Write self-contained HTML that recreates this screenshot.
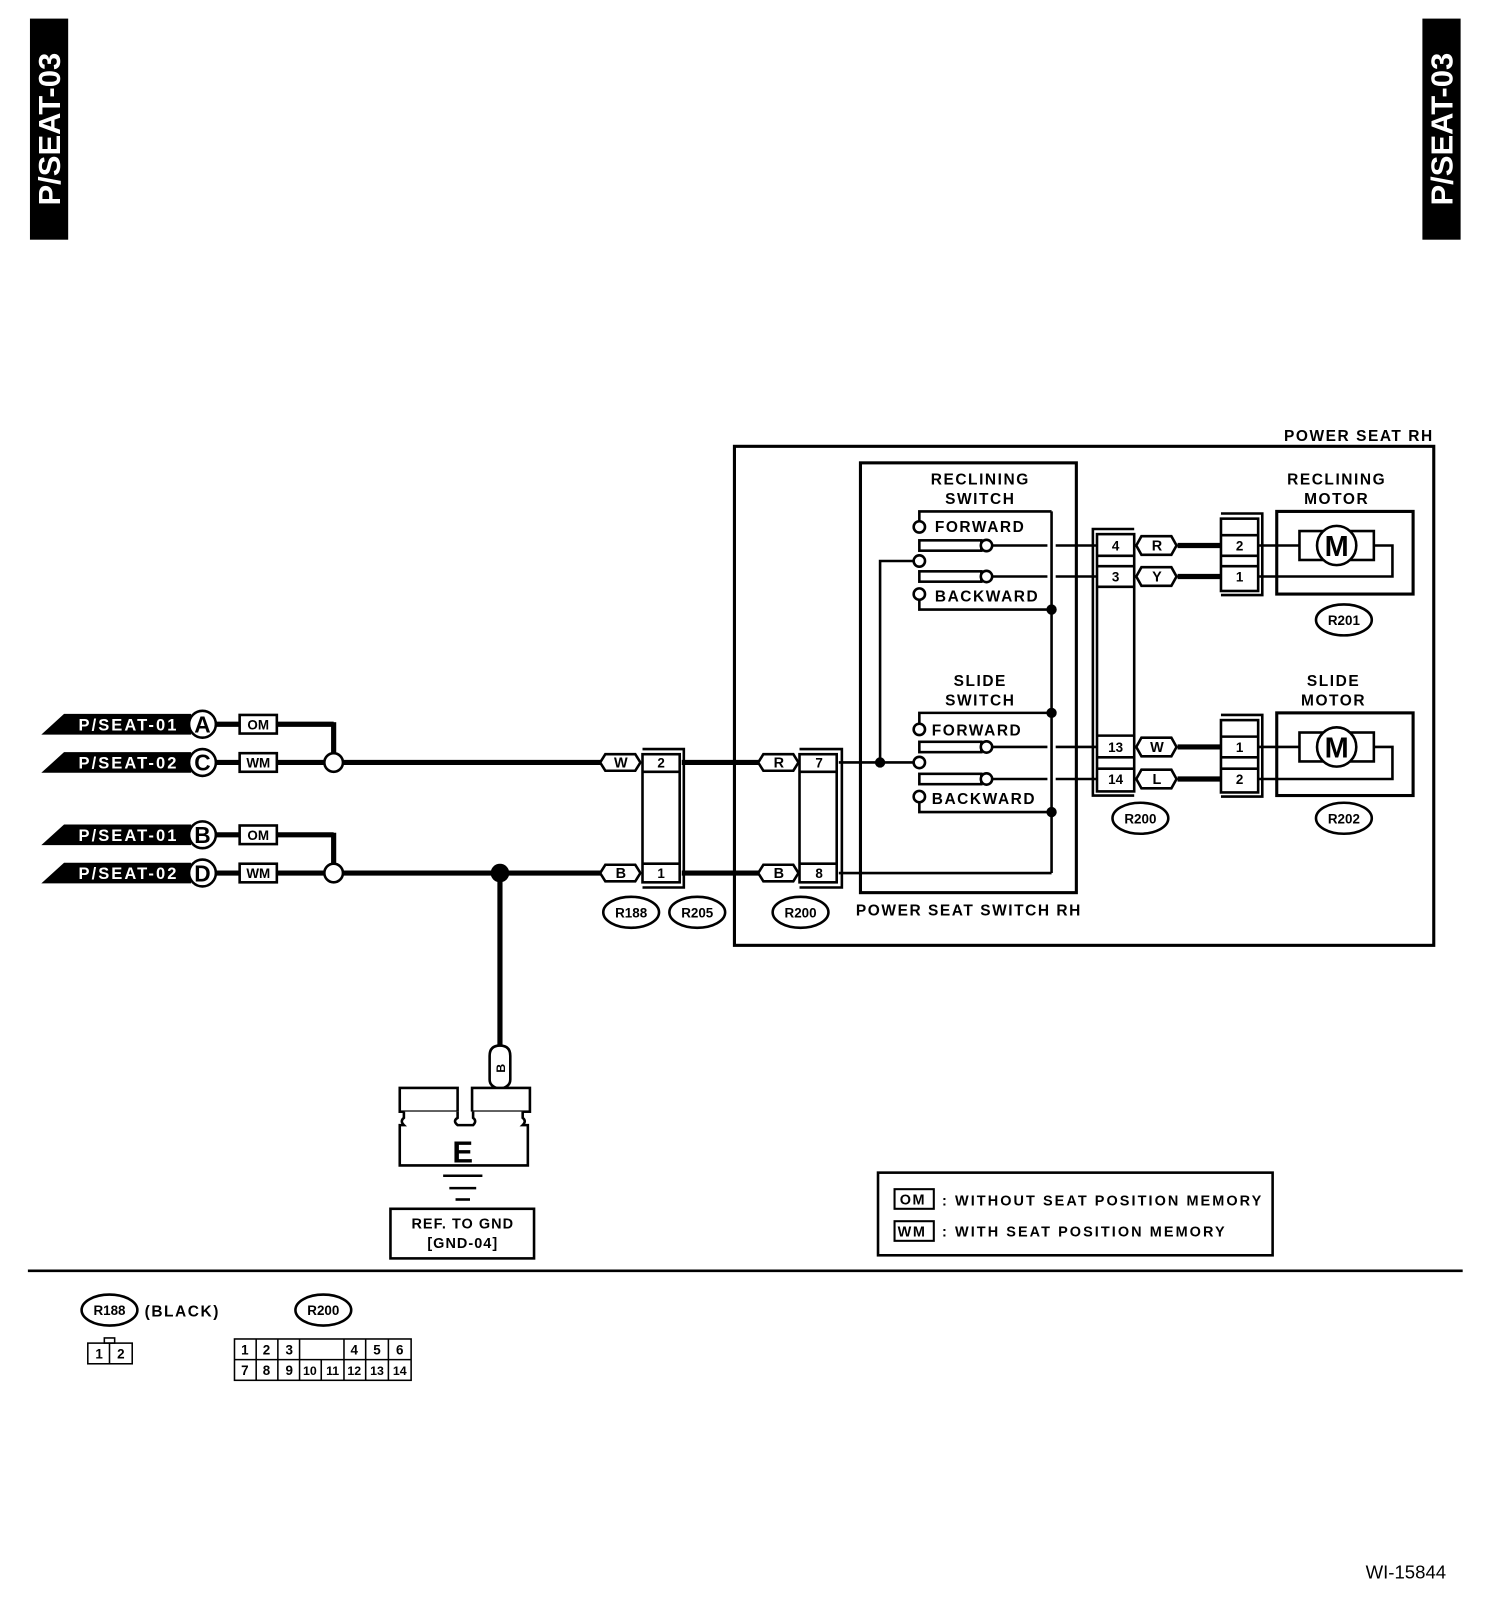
<!DOCTYPE html>
<html><head><meta charset="utf-8"><style>
html,body{margin:0;padding:0;background:#fff}
svg{display:block}
text{font-family:"Liberation Sans",sans-serif;font-weight:bold;fill:#000}
.ls{letter-spacing:1.5px}
.ls2{letter-spacing:2px}
</style></head><body>
<svg width="1504" height="1620" viewBox="0 0 1456 1568" preserveAspectRatio="none" xmlns="http://www.w3.org/2000/svg">
<g>
<rect x="29" y="18" width="37" height="214" fill="#000"/>
<text transform="translate(58,125) rotate(-90)" text-anchor="middle" font-size="30" style="fill:#fff">P/SEAT-03</text>
<rect x="1377" y="18" width="37" height="214" fill="#000"/>
<text transform="translate(1406,125) rotate(-90)" text-anchor="middle" font-size="30" style="fill:#fff">P/SEAT-03</text>
</g>
<line x1="27" y1="1230" x2="1416" y2="1230" stroke="#000" stroke-width="2.5"/>
<text x="1322" y="1528" font-size="18" style="font-weight:normal">WI-15844</text>

<g font-size="16" class="ls2">
<polygon points="40,711 62,691 185,691 185,711" fill="#000"/><text x="76" y="707" style="fill:#fff">P/SEAT-01</text>
<polygon points="40,748 62,728 185,728 185,748" fill="#000"/><text x="76" y="744" style="fill:#fff">P/SEAT-02</text>
<polygon points="40,818 62,798 185,798 185,818" fill="#000"/><text x="76" y="814" style="fill:#fff">P/SEAT-01</text>
<polygon points="40,855 62,835 185,835 185,855" fill="#000"/><text x="76" y="851" style="fill:#fff">P/SEAT-02</text>
</g>
<g stroke="#000" stroke-width="5" fill="none">
<line x1="205" y1="701" x2="232" y2="701"/><line x1="268" y1="701" x2="323" y2="701"/><line x1="323" y1="699" x2="323" y2="730"/>
<line x1="205" y1="738" x2="232" y2="738"/><line x1="268" y1="738" x2="314" y2="738"/><line x1="332" y1="738" x2="583" y2="738"/>
<line x1="205" y1="808" x2="232" y2="808"/><line x1="268" y1="808" x2="323" y2="808"/><line x1="323" y1="806" x2="323" y2="837"/>
<line x1="205" y1="845" x2="232" y2="845"/><line x1="268" y1="845" x2="314" y2="845"/><line x1="332" y1="845" x2="583" y2="845"/>
<line x1="484" y1="845" x2="484" y2="1014"/>
<line x1="660" y1="738" x2="737" y2="738"/><line x1="660" y1="845" x2="737" y2="845"/>
<line x1="1140" y1="528" x2="1182" y2="528"/><line x1="1140" y1="558" x2="1182" y2="558"/>
<line x1="1140" y1="723" x2="1182" y2="723"/><line x1="1140" y1="754" x2="1182" y2="754"/>
</g>
<g stroke="#000" stroke-width="2.5" fill="#fff">
<circle cx="196" cy="701" r="13"/><circle cx="196" cy="738" r="13"/><circle cx="196" cy="808" r="13"/><circle cx="196" cy="845" r="13"/>
<circle cx="323" cy="738" r="9"/><circle cx="323" cy="845" r="9"/>
<rect x="232" y="692" width="36" height="18"/><rect x="232" y="729" width="36" height="18"/>
<rect x="232" y="799" width="36" height="18"/><rect x="232" y="836" width="36" height="18"/>
</g>
<g font-size="22" text-anchor="middle"><text x="196" y="709">A</text><text x="196" y="746">C</text><text x="196" y="816">B</text><text x="196" y="853">D</text></g>
<g font-size="13" text-anchor="middle"><text x="250" y="706">OM</text><text x="250" y="743">WM</text><text x="250" y="813">OM</text><text x="250" y="850">WM</text></g>
<circle cx="484" cy="845" r="9" fill="#000"/>

<g stroke="#000" stroke-width="2.5" fill="#fff">
<path d="M586,730 H615 L620,738 L615,746 H586 L581,738 Z"/>
<path d="M586,837 H615 L620,845 L615,853 H586 L581,845 Z"/>
<path d="M739,730 H768 L773,738 L768,746 H739 L734,738 Z"/>
<path d="M739,837 H768 L773,845 L768,853 H739 L734,845 Z"/>
<path d="M1105,519 H1134 L1139,528 L1134,537 H1105 L1100,528 Z"/>
<path d="M1105,549 H1134 L1139,558 L1134,567 H1105 L1100,558 Z"/>
<path d="M1105,714 H1134 L1139,723 L1134,732 H1105 L1100,723 Z"/>
<path d="M1105,745 H1134 L1139,754 L1134,763 H1105 L1100,754 Z"/>
</g>
<g font-size="14" text-anchor="middle">
<text x="601" y="743">W</text><text x="601" y="850">B</text><text x="754" y="743">R</text><text x="754" y="850">B</text>
<text x="1120" y="533">R</text><text x="1120" y="563">Y</text><text x="1120" y="728">W</text><text x="1120" y="759">L</text>
</g>

<g stroke="#000" stroke-width="2.5" fill="none">
<rect x="622" y="730" width="36" height="124"/><line x1="622" y1="747" x2="658" y2="747"/><line x1="622" y1="836" x2="658" y2="836"/>
<polyline points="622,725 662,725 662,859 622,859"/>
<rect x="774" y="730" width="36" height="124"/><line x1="774" y1="747" x2="810" y2="747"/><line x1="774" y1="836" x2="810" y2="836"/>
<polyline points="774,725 815,725 815,859 774,859"/>
<rect x="1062" y="517" width="36" height="249"/>
<line x1="1062" y1="538" x2="1098" y2="538"/><line x1="1062" y1="548" x2="1098" y2="548"/><line x1="1062" y1="568" x2="1098" y2="568"/>
<line x1="1062" y1="712" x2="1098" y2="712"/><line x1="1062" y1="733" x2="1098" y2="733"/><line x1="1062" y1="744" x2="1098" y2="744"/>
<polyline points="1098,512 1058,512 1058,770 1098,770"/>
<rect x="1182" y="502" width="36" height="70"/><line x1="1182" y1="518" x2="1218" y2="518"/><line x1="1182" y1="538" x2="1218" y2="538"/><line x1="1182" y1="548" x2="1218" y2="548"/>
<polyline points="1182,497 1222,497 1222,576 1182,576"/>
<rect x="1182" y="697" width="36" height="70"/><line x1="1182" y1="713" x2="1218" y2="713"/><line x1="1182" y1="733" x2="1218" y2="733"/><line x1="1182" y1="744" x2="1218" y2="744"/>
<polyline points="1182,692 1222,692 1222,771 1182,771"/>
</g>
<g font-size="13" text-anchor="middle">
<text x="640" y="743">2</text><text x="640" y="850">1</text><text x="793" y="743">7</text><text x="793" y="850">8</text>
<text x="1080" y="533">4</text><text x="1080" y="563">3</text><text x="1080" y="728">13</text><text x="1080" y="759">14</text>
<text x="1200" y="533">2</text><text x="1200" y="563">1</text><text x="1200" y="728">1</text><text x="1200" y="759">2</text>
</g>

<g stroke="#000" stroke-width="3" fill="none">
<rect x="711" y="432" width="677" height="483"/>
<rect x="833" y="448" width="209" height="416"/>
<rect x="1236" y="495" width="132" height="80"/>
<rect x="1236" y="690" width="132" height="80"/>
</g>
<g font-size="15" text-anchor="middle" class="ls">
<text x="1388" y="427" text-anchor="end">POWER SEAT RH</text>
<text x="938" y="886">POWER SEAT SWITCH RH</text>
<text x="949" y="469">RECLINING</text><text x="949" y="488">SWITCH</text>
<text x="949" y="664">SLIDE</text><text x="949" y="683">SWITCH</text>
<text x="1294" y="469">RECLINING</text><text x="1294" y="488">MOTOR</text>
<text x="1291" y="664">SLIDE</text><text x="1291" y="683">MOTOR</text>
</g>

<g stroke="#000" stroke-width="2.5" fill="none">
<line x1="812" y1="738" x2="885" y2="738"/>
<polyline points="852,738 852,543 885,543"/>
<line x1="812" y1="845" x2="1018" y2="845"/>
<line x1="1018" y1="495" x2="1018" y2="845"/>
<polyline points="890,504 890,495 1018,495"/>
<polyline points="890,581 890,590 1018,590"/>
<rect x="890" y="523" width="60" height="10"/><line x1="960" y1="528" x2="1014" y2="528"/><line x1="1022" y1="528" x2="1062" y2="528"/>
<rect x="890" y="553" width="60" height="10"/><line x1="960" y1="558" x2="1014" y2="558"/><line x1="1022" y1="558" x2="1062" y2="558"/>
<polyline points="890,700 890,690 1018,690"/>
<polyline points="890,777 890,786 1018,786"/>
<rect x="890" y="718" width="60" height="10"/><line x1="960" y1="723" x2="1014" y2="723"/><line x1="1022" y1="723" x2="1062" y2="723"/>
<rect x="890" y="749" width="60" height="10"/><line x1="960" y1="754" x2="1014" y2="754"/><line x1="1022" y1="754" x2="1062" y2="754"/>
</g>
<g stroke="#000" stroke-width="2.5" fill="#fff">
<circle cx="890" cy="510" r="5.5"/><circle cx="955" cy="528" r="5.5"/><circle cx="890" cy="543" r="5.5"/><circle cx="955" cy="558" r="5.5"/><circle cx="890" cy="575" r="5.5"/>
<circle cx="890" cy="706" r="5.5"/><circle cx="955" cy="723" r="5.5"/><circle cx="890" cy="738" r="5.5"/><circle cx="955" cy="754" r="5.5"/><circle cx="890" cy="771" r="5.5"/>
</g>
<g fill="#000"><circle cx="852" cy="738" r="5"/><circle cx="1018" cy="590" r="5"/><circle cx="1018" cy="690" r="5"/><circle cx="1018" cy="786" r="5"/></g>
<g font-size="15" class="ls"><text x="905" y="515">FORWARD</text><text x="905" y="582">BACKWARD</text><text x="902" y="712">FORWARD</text><text x="902" y="778">BACKWARD</text></g>

<g stroke="#000" stroke-width="2.5" fill="none">
<line x1="1218" y1="528" x2="1258" y2="528"/><polyline points="1218,558 1348,558 1348,528 1330,528"/><rect x="1258" y="514" width="72" height="28" fill="#fff"/><circle cx="1294" cy="528" r="19" fill="#fff"/>
<line x1="1218" y1="723" x2="1258" y2="723"/><polyline points="1218,754 1348,754 1348,723 1330,723"/><rect x="1258" y="709" width="72" height="28" fill="#fff"/><circle cx="1294" cy="723" r="19" fill="#fff"/>
</g>
<g font-size="28" text-anchor="middle"><text x="1294" y="538">M</text><text x="1294" y="733">M</text></g>

<g stroke="#000" stroke-width="2.5" fill="#fff">
<ellipse cx="611" cy="883" rx="27" ry="15"/><ellipse cx="675" cy="883" rx="27" ry="15"/><ellipse cx="775" cy="883" rx="27" ry="15"/>
<ellipse cx="1104" cy="792" rx="27" ry="15"/><ellipse cx="1301" cy="600" rx="27" ry="15"/><ellipse cx="1301" cy="792" rx="27" ry="15"/>
<ellipse cx="106" cy="1268" rx="27" ry="15"/><ellipse cx="313" cy="1268" rx="27" ry="15"/>
</g>
<g font-size="13" text-anchor="middle" style="font-weight:normal">
<text x="611" y="888">R188</text><text x="675" y="888">R205</text><text x="775" y="888">R200</text>
<text x="1104" y="797">R200</text><text x="1301" y="605">R201</text><text x="1301" y="797">R202</text>
<text x="106" y="1273">R188</text><text x="313" y="1273">R200</text>
</g>
<text x="140" y="1274" font-size="15" class="ls">(BLACK)</text>

<g stroke="#000" stroke-width="2.5" fill="#fff">
<path d="M474,1045 V1022 Q474,1012 484,1012 Q494,1012 494,1022 V1045 Q494,1052 484,1054 Q474,1052 474,1045 Z"/>
<rect x="387" y="1053" width="56" height="23"/>
<rect x="457" y="1053" width="56" height="23"/>
<path d="M391,1076 V1082 Q387,1085 391,1089 H387 V1128 H511 V1089 H506 Q510,1085 506,1082 V1076 M443,1076 V1082 Q438,1085 443,1089 H458 Q462,1085 458,1082 V1076"/>
</g>
<text transform="translate(489,1034) rotate(-90)" font-size="12" text-anchor="middle">B</text>
<text x="448" y="1125" font-size="30" text-anchor="middle">E</text>
<g stroke="#000" stroke-width="2.5"><line x1="429" y1="1138" x2="467" y2="1138"/><line x1="435" y1="1150" x2="461" y2="1150"/><line x1="441" y1="1161" x2="455" y2="1161"/></g>
<rect x="378" y="1170" width="139" height="48" fill="none" stroke="#000" stroke-width="2.5"/>
<g font-size="14" text-anchor="middle" style="font-weight:normal;letter-spacing:1px"><text x="448" y="1189">REF. TO GND</text><text x="448" y="1208">[GND-04]</text></g>

<rect x="850" y="1135" width="382" height="80" fill="none" stroke="#000" stroke-width="2.5"/>
<g stroke="#000" stroke-width="2" fill="none"><rect x="866" y="1151" width="38" height="19"/><rect x="866" y="1182" width="38" height="19"/></g>
<g font-size="14"><text x="871" y="1166" class="ls">OM</text><text x="869" y="1197" class="ls">WM</text>
<text x="912" y="1167" class="ls2">: WITHOUT SEAT POSITION MEMORY</text><text x="912" y="1197" class="ls2">: WITH SEAT POSITION MEMORY</text></g>

<g stroke="#000" stroke-width="1.5" fill="none">
<rect x="85" y="1300" width="43" height="20"/><line x1="106" y1="1300" x2="106" y2="1320"/><rect x="101" y="1295" width="10" height="5"/>
<rect x="227" y="1296" width="171" height="40"/><line x1="227" y1="1316" x2="398" y2="1316"/>
<line x1="248" y1="1296" x2="248" y2="1336"/><line x1="269" y1="1296" x2="269" y2="1336"/><line x1="290" y1="1296" x2="290" y2="1336"/>
<line x1="311" y1="1316" x2="311" y2="1336"/><line x1="333" y1="1296" x2="333" y2="1336"/><line x1="354" y1="1296" x2="354" y2="1336"/><line x1="376" y1="1296" x2="376" y2="1336"/>
</g>
<g font-size="13" text-anchor="middle" style="font-weight:normal">
<text x="96" y="1315">1</text><text x="117" y="1315">2</text>
<text x="237" y="1311">1</text><text x="258" y="1311">2</text><text x="280" y="1311">3</text><text x="343" y="1311">4</text><text x="365" y="1311">5</text><text x="387" y="1311">6</text>
<text x="237" y="1331">7</text><text x="258" y="1331">8</text><text x="280" y="1331">9</text><text x="300" y="1331" font-size="12">10</text><text x="322" y="1331" font-size="12">11</text><text x="343" y="1331" font-size="12">12</text><text x="365" y="1331" font-size="12">13</text><text x="387" y="1331" font-size="12">14</text>
</g>
</svg>
</body></html>
